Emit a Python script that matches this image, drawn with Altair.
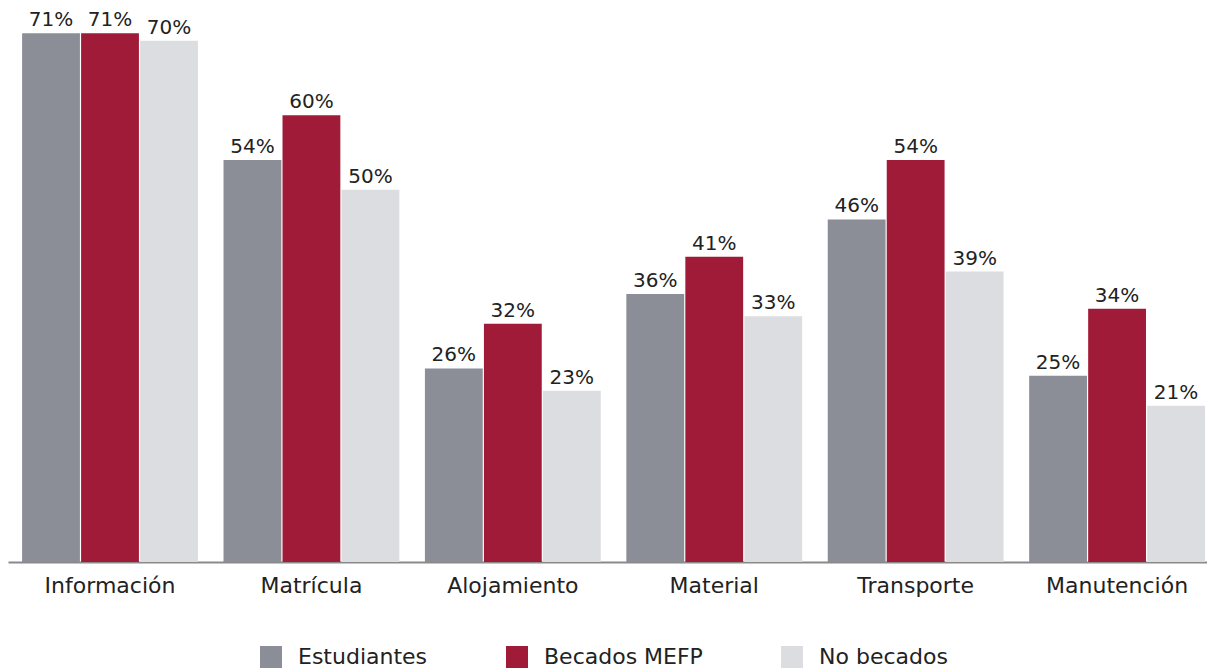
import altair as alt
import pandas as pd

categories = ["Información", "Matrícula", "Alojamiento", "Material", "Transporte", "Manutención"]
series = ["Estudiantes", "Becados MEFP", "No becados"]
estudiantes = [71, 54, 26, 36, 46, 25]
becados = [71, 60, 32, 41, 54, 34]
no_becados = [70, 50, 23, 33, 39, 21]
colors = ["#8b8e97", "#a01b37", "#dcdde0"]

rows = []
for s, vals in zip(series, [estudiantes, becados, no_becados]):
    for c, v in zip(categories, vals):
        rows.append({"cat": c, "serie": s, "val": v / 100, "label": f"{v}%"})
df = pd.DataFrame(rows)

FONT = "DejaVu Sans"

base = alt.Chart(df).encode(
    x=alt.X("cat:N", sort=categories, title=None,
            scale=alt.Scale(paddingInner=0.127, paddingOuter=0.04, align=0.875),
            axis=alt.Axis(labelAngle=0, labelFontSize=22, labelColor="#222222",
                          labelFont=FONT, labelPadding=13, ticks=False,
                          domainColor="#8a8a8a", domainWidth=2)),
    xOffset=alt.XOffset("serie:N", sort=series, scale=alt.Scale(paddingInner=0.02)),
    y=alt.Y("val:Q", scale=alt.Scale(domain=[0, 0.744]), axis=None),
)

bars = base.mark_bar().encode(
    color=alt.Color("serie:N", sort=series,
                    scale=alt.Scale(domain=series, range=colors),
                    legend=alt.Legend(title=None, orient="none", direction="horizontal",
                                      legendX=252, legendY=638,
                                      symbolType="square", symbolSize=484, symbolStrokeWidth=0,
                                      labelFontSize=22, labelFont=FONT, labelColor="#222222",
                                      labelOffset=16, columnPadding=78,
                                      symbolOpacity=1))
)

text = base.mark_text(baseline="bottom", dy=-3, fontSize=20, font=FONT, color="#222222").encode(
    text="label:N"
)

chart = (bars + text).properties(
    width=1199, height=554, padding=0
).configure_view(stroke=None).configure_axis(grid=False)

chart.save("out.html", embed_options={"renderer": "svg", "actions": False})
